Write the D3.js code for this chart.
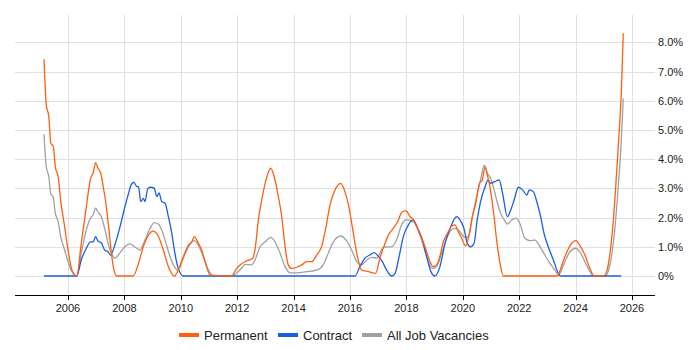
<!DOCTYPE html>
<html>
<head>
<meta charset="utf-8">
<script src="https://cdn.jsdelivr.net/npm/d3@7"></script>
<style>
  body { margin: 0; background: #fff; }
  svg text { font-family: "Liberation Sans", Arial, sans-serif; }
</style>
</head>
<body>
<div id="chart"></div>
<script>
// values are [decimal year, percent]
const permanent = [
  [2005.15, 7.42], [2005.23, 5.86], [2005.32, 5.46], [2005.39, 4.55], [2005.48, 4.43],
  [2005.55, 3.74], [2005.65, 3.40], [2005.74, 2.60], [2005.88, 1.69], [2006.02, 0.78],
  [2006.14, 0.2], [2006.31, 0], [2006.47, 1.12], [2006.65, 2.37], [2006.80, 3.34],
  [2006.89, 3.52], [2006.98, 3.88], [2007.06, 3.69], [2007.16, 3.52], [2007.25, 3.06],
  [2007.36, 2.37], [2007.44, 1.69], [2007.54, 0.78], [2007.63, 0.2], [2007.73, 0],
  [2008.31, 0], [2008.5, 0.43], [2008.67, 1.0], [2008.85, 1.40], [2009.02, 1.54],
  [2009.2, 1.37], [2009.38, 0.89], [2009.56, 0.32], [2009.77, 0], [2009.91, 0.2],
  [2010.09, 0.66], [2010.27, 1.06], [2010.39, 1.17], [2010.48, 1.35], [2010.6, 1.17],
  [2010.74, 0.89], [2010.88, 0.43], [2011.04, 0.03], [2011.8, 0], [2011.98, 0.26],
  [2012.1, 0.38], [2012.28, 0.49], [2012.43, 0.55], [2012.55, 0.61], [2012.63, 0.89],
  [2012.75, 1.92], [2012.87, 2.60], [2013.02, 3.29], [2013.19, 3.69], [2013.34, 3.29],
  [2013.46, 2.72], [2013.58, 2.03], [2013.7, 1.0], [2013.81, 0.38], [2013.93, 0.26],
  [2014.11, 0.3], [2014.29, 0.38], [2014.46, 0.49], [2014.64, 0.49], [2014.82, 0.72],
  [2014.99, 1.0], [2015.15, 1.69], [2015.29, 2.43], [2015.47, 2.95], [2015.67, 3.17],
  [2015.82, 2.89], [2015.96, 2.37], [2016.08, 1.69], [2016.24, 0.78], [2016.41, 0.2],
  [2016.65, 0.15], [2016.91, 0.09], [2017.06, 0.61], [2017.22, 1.06], [2017.36, 1.40],
  [2017.53, 1.63], [2017.69, 1.86], [2017.85, 2.2], [2017.99, 2.23], [2018.13, 2.03],
  [2018.24, 1.94], [2018.42, 1.58], [2018.66, 1.0], [2018.84, 0.49], [2018.95, 0.32],
  [2019.13, 0.49], [2019.31, 1.17], [2019.49, 1.52], [2019.62, 1.72], [2019.72, 1.75],
  [2019.84, 1.52], [2019.96, 1.29], [2020.1, 1.03], [2020.22, 1.40], [2020.34, 2.03],
  [2020.46, 2.49], [2020.59, 3.17], [2020.69, 3.29], [2020.79, 3.74], [2020.87, 3.46],
  [2020.96, 3.06], [2021.08, 2.26], [2021.2, 1.23], [2021.32, 0.43], [2021.44, 0],
  [2023.36, 0], [2023.45, 0.2], [2023.62, 0.66], [2023.8, 1.03], [2024.01, 1.21],
  [2024.18, 1.0], [2024.33, 0.72], [2024.51, 0.25], [2024.66, 0], [2024.98, 0],
  [2025.1, 0.15], [2025.22, 0.78], [2025.34, 1.92], [2025.46, 3.63], [2025.57, 5.34],
  [2025.63, 6.48], [2025.69, 8.31]
];

const contract = [
  [2005.15, 0], [2006.31, 0], [2006.47, 0.55], [2006.65, 0.95], [2006.8, 1.17],
  [2006.89, 1.17], [2006.98, 1.35], [2007.06, 1.2], [2007.18, 1.14], [2007.3, 0.89],
  [2007.42, 0.83], [2007.51, 0.72], [2007.66, 1.06], [2007.83, 1.63], [2007.99, 2.26],
  [2008.13, 2.77], [2008.24, 3.12], [2008.33, 3.21], [2008.45, 3.06], [2008.5, 3.06],
  [2008.58, 2.55], [2008.67, 2.66], [2008.73, 2.55], [2008.83, 3.0], [2008.94, 3.04],
  [2009.06, 3.0], [2009.15, 2.72], [2009.23, 2.85], [2009.32, 2.55], [2009.44, 2.49],
  [2009.56, 2.03], [2009.68, 1.46], [2009.79, 0.78], [2009.91, 0.26], [2010.09, 0],
  [2016.18, 0], [2016.35, 0.32], [2016.53, 0.61], [2016.71, 0.72], [2016.86, 0.8],
  [2017.0, 0.68], [2017.15, 0.49], [2017.3, 0.2], [2017.48, 0], [2017.6, 0.09],
  [2017.74, 0.66], [2017.89, 1.35], [2018.07, 1.75], [2018.24, 1.92], [2018.4, 1.63],
  [2018.57, 1.23], [2018.72, 0.66], [2018.87, 0.15], [2019.01, 0], [2019.19, 0.32],
  [2019.37, 1.12], [2019.55, 1.63], [2019.7, 1.95], [2019.78, 2.03], [2019.9, 1.92],
  [2020.04, 1.63], [2020.16, 1.12], [2020.28, 1.0], [2020.4, 1.12], [2020.51, 1.92],
  [2020.63, 2.55], [2020.79, 3.06], [2020.9, 3.29], [2020.98, 3.17], [2021.13, 3.23],
  [2021.29, 3.29], [2021.41, 2.83], [2021.58, 2.03], [2021.7, 2.26], [2021.82, 2.6],
  [2021.97, 3.04], [2022.12, 2.95], [2022.27, 2.77], [2022.36, 2.95], [2022.5, 2.89],
  [2022.64, 2.49], [2022.76, 2.03], [2022.88, 1.46], [2023.03, 1.0], [2023.21, 0.55],
  [2023.39, 0.09], [2023.45, 0], [2025.62, 0]
];

const allJobs = [
  [2005.15, 4.85], [2005.23, 3.74], [2005.32, 3.4], [2005.39, 2.81], [2005.47, 2.72],
  [2005.55, 2.15], [2005.65, 1.86], [2005.74, 1.35], [2005.88, 0.89], [2006.02, 0.43],
  [2006.14, 0.15], [2006.31, 0], [2006.47, 0.78], [2006.65, 1.58], [2006.83, 2.03],
  [2006.89, 2.09], [2006.98, 2.32], [2007.06, 2.2], [2007.18, 2.03], [2007.3, 1.63],
  [2007.42, 1.12], [2007.54, 0.78], [2007.66, 0.61], [2007.83, 0.78], [2008.01, 1.0],
  [2008.19, 1.1], [2008.36, 1.0], [2008.55, 0.89], [2008.73, 1.23], [2008.91, 1.63],
  [2009.06, 1.83], [2009.2, 1.78], [2009.32, 1.58], [2009.46, 1.17], [2009.62, 0.66],
  [2009.77, 0.32], [2009.89, 0.2], [2010.09, 0.61], [2010.27, 1.0], [2010.48, 1.21],
  [2010.62, 1.06], [2010.8, 0.66], [2010.98, 0.2], [2011.15, 0], [2011.78, 0],
  [2012.04, 0.15], [2012.18, 0.3], [2012.28, 0.4], [2012.51, 0.38], [2012.63, 0.55],
  [2012.81, 1.0], [2012.99, 1.17], [2013.19, 1.32], [2013.34, 1.17], [2013.52, 0.78],
  [2013.7, 0.32], [2013.87, 0.11], [2014.11, 0.11], [2014.46, 0.15], [2014.82, 0.2],
  [2015.05, 0.38], [2015.23, 0.78], [2015.41, 1.17], [2015.67, 1.37], [2015.86, 1.23],
  [2016.06, 0.89], [2016.24, 0.49], [2016.41, 0.38], [2016.59, 0.55], [2016.77, 0.64],
  [2016.95, 0.61], [2017.06, 0.78], [2017.18, 0.98], [2017.34, 1.0], [2017.48, 1.0],
  [2017.65, 1.23], [2017.83, 1.75], [2018.01, 1.92], [2018.19, 1.89], [2018.37, 1.69],
  [2018.54, 1.23], [2018.72, 0.66], [2018.92, 0.26], [2019.07, 0.32], [2019.25, 0.78],
  [2019.43, 1.29], [2019.6, 1.58], [2019.72, 1.63], [2019.9, 1.52], [2020.07, 1.32],
  [2020.2, 1.35], [2020.35, 2.09], [2020.49, 2.72], [2020.63, 3.29], [2020.76, 3.8],
  [2020.87, 3.52], [2020.96, 3.4], [2021.08, 3.06], [2021.2, 2.6], [2021.34, 2.15],
  [2021.47, 1.92], [2021.58, 1.78], [2021.73, 1.92], [2021.89, 1.98], [2022.03, 1.78],
  [2022.2, 1.29], [2022.38, 1.21], [2022.56, 1.23], [2022.74, 1.0], [2022.91, 0.72],
  [2023.09, 0.43], [2023.27, 0.2], [2023.39, 0.03], [2023.45, 0.1], [2023.62, 0.49],
  [2023.8, 0.83], [2024.01, 0.95], [2024.18, 0.78], [2024.33, 0.49], [2024.51, 0.15],
  [2024.62, 0], [2025.05, 0], [2025.17, 0.2], [2025.29, 0.78], [2025.4, 1.69],
  [2025.52, 3.17], [2025.61, 4.43], [2025.69, 6.08]
];

const seriesNames = ["Permanent", "Contract", "All Job Vacancies"];
const seriesColors = ["#ff5f0f", "#1a5fe0", "#a0a0a0"];
const xTicks = d3.range(2006, 2027, 2);
const yTicks = [0, 1, 2, 3, 4, 5, 6, 7, 8];

const width = 700, height = 350;
const plotLeft = 15, plotRight = 655, plotTop = 15, plotBottom = 295;

const svg = d3.select("#chart").append("svg")
  .attr("width", width)
  .attr("height", height);

const x = d3.scaleLinear().domain([2006, 2026]).range([68, 632]);
const y = d3.scaleLinear().domain([0, 8]).range([276, 42.4]);

// grid
svg.append("g")
  .selectAll("line")
  .data(yTicks)
  .join("line")
  .attr("x1", plotLeft).attr("x2", plotRight)
  .attr("y1", d => Math.round(y(d)) + 0.5).attr("y2", d => Math.round(y(d)) + 0.5)
  .attr("stroke", "#e0e0e0");

svg.append("g")
  .selectAll("line")
  .data(xTicks)
  .join("line")
  .attr("x1", d => Math.round(x(d)) + 0.5).attr("x2", d => Math.round(x(d)) + 0.5)
  .attr("y1", plotTop).attr("y2", plotBottom)
  .attr("stroke", "#e0e0e0");

// lines
const line = d3.line()
  .x(d => x(d[0]))
  .y(d => y(d[1]))
  .curve(d3.curveMonotoneX);

const data = [allJobs, contract, permanent];
const colors = [seriesColors[2], seriesColors[1], seriesColors[0]];

svg.append("g")
  .selectAll("path")
  .data(data)
  .join("path")
  .attr("d", line)
  .attr("fill", "none")
  .attr("stroke", (d, i) => colors[i])
  .attr("stroke-width", 1.3)
  .attr("stroke-linejoin", "round");

// x axis
const xAxis = svg.append("g")
  .attr("transform", `translate(0,${plotBottom})`);
xAxis.append("line")
  .attr("x1", plotLeft).attr("x2", plotRight)
  .attr("y1", 0.5).attr("y2", 0.5)
  .attr("stroke", "#000");
xAxis.selectAll(".tick")
  .data(xTicks)
  .join("line")
  .attr("class", "tick")
  .attr("x1", d => Math.round(x(d)) + 0.5).attr("x2", d => Math.round(x(d)) + 0.5)
  .attr("y1", 0).attr("y2", 5)
  .attr("stroke", "#000");
xAxis.selectAll(".label")
  .data(xTicks)
  .join("text")
  .attr("class", "label")
  .attr("x", d => x(d))
  .attr("y", 17)
  .attr("text-anchor", "middle")
  .attr("font-size", 11)
  .attr("fill", "#222")
  .text(d => d);

// y labels
svg.append("g")
  .selectAll("text")
  .data(yTicks)
  .join("text")
  .attr("x", 658)
  .attr("y", d => y(d) + 4)
  .attr("font-size", 11)
  .attr("fill", "#222")
  .text(d => d === 0 ? "0%" : d.toFixed(1) + "%");

// legend
const legendX = [179, 278, 362];
const legend = svg.append("g")
  .selectAll("g")
  .data(seriesNames)
  .join("g")
  .attr("transform", (d, i) => `translate(${legendX[i]},335)`);
legend.append("line")
  .attr("x1", 0).attr("x2", 20)
  .attr("y1", 0).attr("y2", 0)
  .attr("stroke", (d, i) => seriesColors[i])
  .attr("stroke-width", 4);
legend.append("text")
  .attr("x", 25)
  .attr("y", 4.5)
  .attr("font-size", 13)
  .attr("fill", "#222")
  .text(d => d);
</script>
</body>
</html>
